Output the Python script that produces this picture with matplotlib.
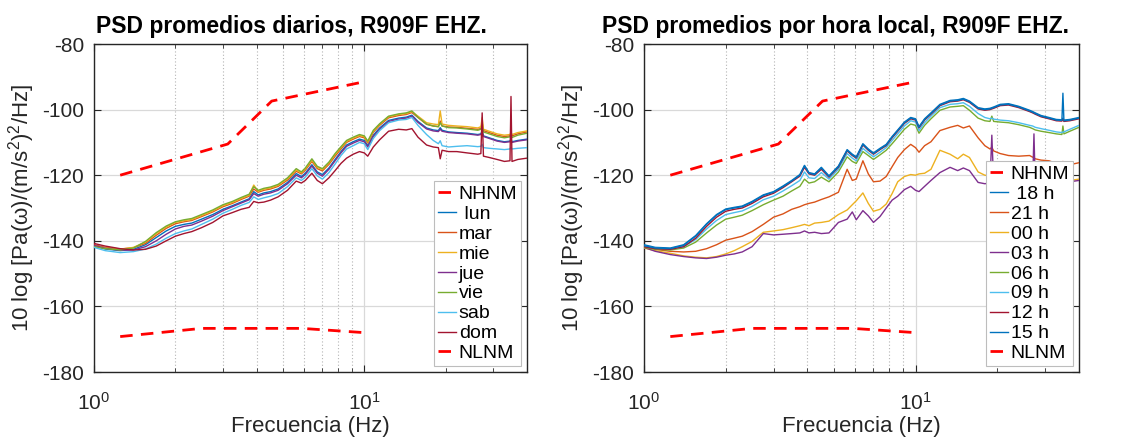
import matplotlib
matplotlib.use('Agg')
import matplotlib.pyplot as plt
from matplotlib.ticker import LogLocator, NullFormatter

plt.rcParams['font.family'] = ['Liberation Sans', 'DejaVu Sans']
plt.rcParams['mathtext.fontset'] = 'custom'
plt.rcParams['mathtext.rm'] = 'Liberation Sans'
plt.rcParams['mathtext.it'] = 'Liberation Sans:italic'
plt.rcParams['mathtext.bf'] = 'Liberation Sans:bold'
plt.rcParams['axes.unicode_minus'] = False

# ---------------- data ----------------
freq = [1.00, 1.10, 1.25, 1.40, 1.55, 1.70, 1.85, 2.00, 2.15, 2.30,
        2.50, 2.75, 3.00, 3.25, 3.50, 3.75, 3.90, 4.05, 4.25, 4.50,
        4.80, 5.20, 5.60, 5.85, 6.05, 6.40, 6.70, 7.00, 7.40, 7.80,
        8.20, 8.60, 9.10, 9.60, 10.0, 10.3, 10.8, 11.4, 12.3, 13.4,
        14.3, 15.0, 15.8, 17.0, 18.0, 18.8, 19.1, 19.4, 20.5, 22.0,
        24.0, 26.3, 27.0, 27.3, 27.6, 29.0, 31.0, 33.0, 34.6, 34.9,
        35.2, 37.0, 40.0]

nhnm_f = [1.25, 3.125, 4.545, 10.0]
nhnm_db = [-120.0, -110.5, -97.4, -91.5]
nlnm_f = [1.25, 2.5, 5.88, 10.0]
nlnm_db = [-169.2, -166.7, -166.7, -168.0]

# daily averages
lun = [-141.6, -142.5, -143.0, -142.6, -141.2, -139.0, -137.0, -135.6, -135.0, -134.6,
       -133.4, -132.0, -130.4, -129.3, -128.2, -127.2, -125.0, -126.0, -125.4, -125.0,
       -124.2, -122.2, -119.5, -120.4, -119.4, -116.8, -119.0, -119.8, -117.8, -115.2,
       -112.8, -110.8, -109.8, -109.0, -109.4, -111.0, -107.8, -105.6, -103.3, -102.6,
       -102.3, -101.7, -103.6, -105.6, -106.2, -106.4, -105.5, -106.3, -106.8, -107.0,
       -107.2, -107.6, -107.4, -106.5, -108.0, -108.6, -109.4, -109.8, -109.6, -109.0,
       -109.8, -109.4, -109.0]
mar = [-141.2, -142.0, -142.5, -142.1, -140.8, -138.3, -136.2, -134.8, -134.2, -133.8,
       -132.6, -131.2, -129.6, -128.6, -127.4, -126.4, -124.2, -125.2, -124.6, -124.2,
       -123.4, -121.5, -118.8, -119.6, -118.5, -115.8, -118.0, -118.7, -116.7, -114.2,
       -112.0, -110.0, -109.0, -108.2, -108.6, -110.2, -106.9, -104.8, -102.5, -101.8,
       -101.5, -100.9, -102.4, -104.5, -105.0, -105.2, -103.5, -105.0, -105.3, -105.4,
       -105.7, -106.0, -105.8, -104.0, -106.4, -107.0, -107.8, -108.2, -108.0, -107.2,
       -108.0, -107.4, -106.8]
mie = [-141.5, -142.2, -142.6, -142.0, -140.4, -137.8, -135.8, -134.4, -133.9, -133.5,
       -132.3, -130.9, -129.3, -128.3, -127.1, -126.1, -123.0, -124.9, -124.3, -123.9,
       -123.1, -121.1, -118.4, -119.3, -118.1, -115.4, -117.6, -118.3, -116.3, -113.7,
       -111.6, -109.7, -108.7, -107.9, -108.3, -109.9, -106.6, -104.5, -102.2, -101.5,
       -101.2, -100.6, -102.0, -104.0, -104.4, -104.6, -100.4, -104.4, -104.8, -105.0,
       -105.2, -105.6, -105.2, -102.5, -106.0, -106.6, -107.4, -107.8, -107.6, -107.0,
       -107.6, -107.0, -106.5]
jue = [-141.4, -142.3, -142.9, -142.8, -141.8, -140.0, -138.0, -136.4, -135.6, -135.2,
       -134.0, -132.5, -130.8, -129.6, -128.5, -127.5, -125.6, -126.4, -125.8, -125.4,
       -124.6, -122.6, -120.0, -120.8, -119.8, -117.2, -119.4, -120.3, -118.2, -115.6,
       -113.2, -111.2, -110.2, -109.4, -109.8, -111.4, -108.2, -106.0, -103.6, -102.9,
       -102.6, -102.0, -103.9, -105.9, -106.5, -106.7, -106.0, -106.6, -107.0, -107.2,
       -107.4, -107.8, -107.6, -107.2, -108.2, -108.8, -109.6, -110.0, -109.8, -109.4,
       -110.0, -109.6, -109.2]
vie = [-141.8, -142.4, -142.8, -142.2, -140.2, -137.5, -135.5, -134.2, -133.6, -133.2,
       -132.0, -130.6, -129.0, -128.0, -126.8, -125.8, -123.5, -124.6, -124.0, -123.6,
       -122.8, -120.8, -118.0, -119.0, -117.8, -115.0, -117.3, -118.0, -116.0, -113.4,
       -111.3, -109.4, -108.4, -107.6, -108.0, -109.6, -106.3, -104.3, -102.0, -101.3,
       -101.0, -100.4, -102.3, -104.4, -105.0, -105.2, -104.0, -105.0, -105.5, -105.6,
       -105.9, -106.3, -106.0, -105.0, -106.8, -107.4, -108.2, -108.6, -108.3, -107.5,
       -108.5, -107.8, -107.2]
sab = [-142.0, -143.0, -143.6, -143.3, -142.5, -141.0, -139.2, -137.8, -137.0, -136.4,
       -135.0, -133.4, -131.6, -130.4, -129.2, -128.3, -126.6, -127.4, -126.9, -126.4,
       -125.6, -123.5, -120.8, -121.6, -120.6, -118.0, -120.2, -121.2, -119.2, -116.6,
       -114.0, -112.0, -111.0, -110.0, -110.4, -112.2, -108.8, -106.4, -104.0, -103.2,
       -103.0, -102.4, -104.8, -107.6, -109.4, -110.4, -109.5, -111.0, -111.4, -111.2,
       -111.0, -111.3, -111.2, -110.6, -111.6, -111.8, -112.0, -112.2, -112.0, -111.5,
       -112.0, -111.8, -111.6]
dom = [-140.8, -141.6, -142.4, -142.8, -142.6, -141.6, -140.0, -138.6, -137.8, -137.2,
       -136.0, -134.4, -132.4, -131.4, -130.4, -129.8, -128.0, -128.4, -128.2, -127.6,
       -126.6, -124.6, -121.8, -122.4, -121.6, -119.4, -121.6, -122.6, -120.8, -118.6,
       -116.4, -114.8, -113.6, -112.8, -113.2, -114.2, -111.4, -109.2, -106.6, -106.0,
       -106.2, -105.8, -108.4, -110.8, -111.4, -111.6, -115.0, -112.4, -112.8, -112.8,
       -113.2, -113.6, -113.4, -101.0, -114.2, -114.6, -115.2, -115.8, -115.6, -96.0,
       -115.8, -115.2, -114.8]

# hourly averages (local time)
h18 = [-141.2, -142.0, -142.2, -141.2, -138.4, -134.8, -132.0, -130.3, -129.8, -129.4,
       -128.0, -126.0, -125.0, -123.3, -121.6, -119.8, -117.0, -119.2, -119.6, -117.6,
       -120.2, -117.2, -112.2, -113.6, -114.4, -110.4, -112.0, -113.2, -111.8, -110.6,
       -108.2, -106.2, -103.8, -102.4, -102.8, -105.2, -102.8, -101.0, -98.4, -97.2,
       -97.0, -96.6, -97.4, -99.4, -99.8, -99.6, -99.4, -99.2, -98.4, -98.2,
       -99.0, -100.2, -100.6, -100.8, -101.0, -101.8, -102.4, -103.0, -103.1, -102.6,
       -103.2, -103.0, -102.4]
h21 = [-141.8, -142.6, -143.2, -143.4, -143.2, -142.4, -141.2, -139.8, -139.2, -138.6,
       -137.2, -135.0, -132.8, -131.8, -130.4, -129.6, -129.0, -128.6, -128.2, -127.4,
       -126.6, -125.2, -118.2, -121.6, -121.2, -115.6, -119.6, -122.0, -121.8, -120.4,
       -117.4, -114.6, -112.2, -110.6, -111.6, -113.0, -111.0, -109.8, -106.4, -105.4,
       -104.8, -105.6, -105.0, -108.6, -111.0, -112.0, -111.5, -112.6, -113.4, -114.0,
       -114.2, -114.0, -114.5, -114.6, -115.0, -115.4, -115.6, -116.4, -116.8, -115.8,
       -117.0, -116.8, -116.2]
h00 = [-142.2, -143.0, -143.8, -144.6, -145.0, -145.2, -144.8, -144.0, -143.0, -141.8,
       -140.2, -137.4, -137.0, -136.6, -136.0, -135.4, -135.0, -135.4, -134.6, -134.4,
       -134.0, -132.0, -130.6, -129.0, -127.8, -125.4, -128.6, -131.0, -130.4, -128.8,
       -125.6, -122.0, -120.4, -119.8, -120.0, -119.6, -119.4, -118.2, -112.4, -113.6,
       -115.0, -113.6, -114.6, -119.0, -120.0, -120.2, -119.8, -120.4, -120.6, -120.4,
       -120.6, -120.8, -120.9, -120.6, -121.0, -121.2, -121.4, -121.6, -121.8, -121.0,
       -121.8, -121.6, -121.2]
h03 = [-142.0, -143.2, -144.2, -144.8, -145.2, -145.4, -145.0, -144.4, -144.0, -143.4,
       -141.8, -137.8, -138.2, -138.0, -137.8, -137.6, -137.0, -137.6, -137.4, -137.8,
       -137.6, -134.4, -133.4, -131.2, -133.6, -130.8, -132.4, -134.4, -132.6, -130.0,
       -127.6, -126.4, -124.4, -123.4, -124.6, -125.0, -123.4, -121.6, -119.2, -117.6,
       -118.6, -117.8, -118.6, -122.2, -122.6, -122.4, -107.8, -122.6, -122.4, -122.2,
       -122.0, -122.2, -122.4, -107.4, -122.6, -122.4, -122.0, -122.2, -122.4, -120.0,
       -122.4, -122.0, -121.6]
h06 = [-142.0, -142.6, -142.8, -142.2, -140.4, -137.6, -135.2, -133.4, -132.8, -132.2,
       -130.8, -129.0, -127.6, -126.4, -124.8, -123.4, -121.2, -122.4, -122.0, -120.6,
       -122.0, -119.0, -114.4, -115.8, -116.4, -112.8, -114.0, -115.2, -113.8, -112.4,
       -110.4, -108.4, -106.0, -104.4, -104.8, -107.2, -104.8, -102.8, -100.2, -99.2,
       -99.0, -98.8, -100.2, -102.6, -103.4, -103.6, -102.0, -103.6, -103.8, -104.0,
       -104.6, -105.4, -105.8, -106.0, -106.2, -106.6, -107.0, -107.4, -107.6, -105.0,
       -107.4, -106.6, -105.4]
h09 = [-141.6, -142.3, -142.5, -141.8, -139.6, -136.4, -133.8, -132.0, -131.4, -130.9,
       -129.5, -127.5, -126.4, -124.8, -123.2, -121.6, -119.0, -120.8, -121.0, -119.2,
       -121.2, -118.2, -113.4, -114.8, -115.6, -111.8, -113.2, -114.4, -113.0, -111.6,
       -109.4, -107.4, -105.0, -103.4, -103.8, -106.4, -104.0, -102.0, -99.4, -98.4,
       -98.2, -97.9, -99.0, -101.2, -102.4, -102.8, -102.6, -102.9, -103.2, -103.4,
       -104.0, -104.8, -105.0, -105.2, -105.4, -105.8, -106.3, -106.8, -107.0, -106.8,
       -106.8, -106.0, -104.8]
h12 = [-141.8, -142.4, -142.6, -141.8, -139.2, -135.6, -132.8, -131.0, -130.4, -130.0,
       -128.6, -126.6, -125.5, -123.8, -122.0, -120.3, -117.6, -119.6, -120.0, -118.2,
       -120.6, -117.6, -112.6, -114.0, -114.8, -110.8, -112.4, -113.6, -112.2, -111.0,
       -108.6, -106.6, -104.2, -102.8, -103.2, -105.6, -103.2, -101.4, -98.8, -97.6,
       -97.4, -97.0, -97.8, -99.8, -100.2, -100.0, -99.8, -99.6, -98.8, -98.6,
       -99.4, -100.6, -101.0, -101.2, -101.4, -102.2, -102.8, -103.4, -103.5, -103.0,
       -103.6, -103.4, -102.8]
h15 = [-141.5, -142.2, -142.4, -141.4, -138.6, -135.0, -132.2, -130.5, -130.0, -129.6,
       -128.2, -126.2, -125.2, -123.5, -121.8, -120.0, -117.2, -119.4, -119.8, -117.8,
       -120.4, -117.4, -112.4, -113.8, -114.6, -110.6, -112.2, -113.4, -112.0, -110.8,
       -108.4, -106.4, -104.0, -102.6, -103.0, -105.4, -103.0, -101.2, -98.6, -97.4,
       -97.2, -96.8, -97.6, -99.6, -100.0, -99.8, -99.6, -99.4, -98.6, -98.4,
       -99.2, -100.4, -100.8, -101.0, -101.2, -102.0, -102.6, -103.2, -103.3, -95.0,
       -103.4, -103.2, -102.6]

day_labels = [' lun', 'mar', 'mie', 'jue', 'vie', 'sab', 'dom']
day_series = [lun, mar, mie, jue, vie, sab, dom]
hour_labels = [' 18 h', '21 h', '00 h', '03 h', '06 h', '09 h', '12 h', '15 h']
hour_series = [h18, h21, h00, h03, h06, h09, h12, h15]

titles = ['PSD promedios diarios, R909F EHZ.',
          'PSD promedios por hora local, R909F EHZ.']
xlabel = 'Frecuencia (Hz)'
ylabel = r'10 log [Pa(ω)/(m/s$^2$)$^2$/Hz]'
yticks = [-180, -160, -140, -120, -100, -80]

colors = ['#0072BD', '#D95319', '#EDB120', '#7E2F8E', '#77AC30', '#4DBEEE', '#A2142F']

# ---------------- figure ----------------
fig = plt.figure(figsize=(11.33, 4.44), dpi=100)
ax1 = fig.add_axes([94 / 1133, 1 - 372 / 444, 433 / 1133, 328 / 444])
ax2 = fig.add_axes([644 / 1133, 1 - 372 / 444, 435 / 1133, 328 / 444])


def draw(ax, labels, series, title, title_x):
    ax.plot(nhnm_f, nhnm_db, color='r', lw=2.0, dashes=(4.5, 3), label='NHNM', zorder=3)
    for i, (lab, s) in enumerate(zip(labels, series)):
        ax.plot(freq, s, color=colors[i % len(colors)], lw=1.0, label=lab, zorder=4)
    ax.plot(nlnm_f, nlnm_db, color='r', lw=2.0, dashes=(4.5, 3), label='NLNM', zorder=3)
    ax.set_xscale('log')
    ax.set_xlim(1, 40)
    ax.set_ylim(-180, -80)
    ax.set_yticks(yticks)
    ax.xaxis.set_major_locator(LogLocator(base=10, numticks=10))
    ax.xaxis.set_minor_locator(LogLocator(base=10, subs=range(2, 10), numticks=10))
    ax.xaxis.set_minor_formatter(NullFormatter())
    ax.grid(True, which='major', color='#d9d9d9', lw=0.9, ls='-', zorder=0)
    ax.grid(True, which='minor', axis='x', color='#b5b5b5', lw=0.8, ls=(0, (1, 2)), zorder=0)
    ax.tick_params(which='both', direction='in', top=True, right=True, labelsize=15,
                   colors='#262626', labelcolor='#262626')
    ax.tick_params(axis='y', pad=7)
    ax.tick_params(axis='x', pad=14)
    ax.tick_params(which='major', length=5, width=0.8)
    ax.tick_params(which='minor', length=3, width=0.6)
    for sp in ax.spines.values():
        sp.set_color('#262626')
        sp.set_linewidth(1.0)
    ax.set_xlabel(xlabel, fontsize=16, color='#262626', labelpad=2)
    ax.set_ylabel(ylabel, fontsize=16, color='#262626', labelpad=4)
    ax.set_title(title, fontsize=16.5, fontweight='bold', x=title_x, pad=8)
    leg = ax.legend(loc='lower right', fontsize=14, handlelength=0.9, handletextpad=0.15,
                    labelspacing=0.12, borderpad=0.2, borderaxespad=0.3,
                    fancybox=False, framealpha=1, edgecolor='#bdbdbd')
    leg.get_frame().set_linewidth(0.8)
    leg.set_zorder(10)


draw(ax1, day_labels, day_series, titles[0], 0.455)
draw(ax2, hour_labels, hour_series, titles[1], 0.441)

fig.savefig('out.png', dpi=100)
